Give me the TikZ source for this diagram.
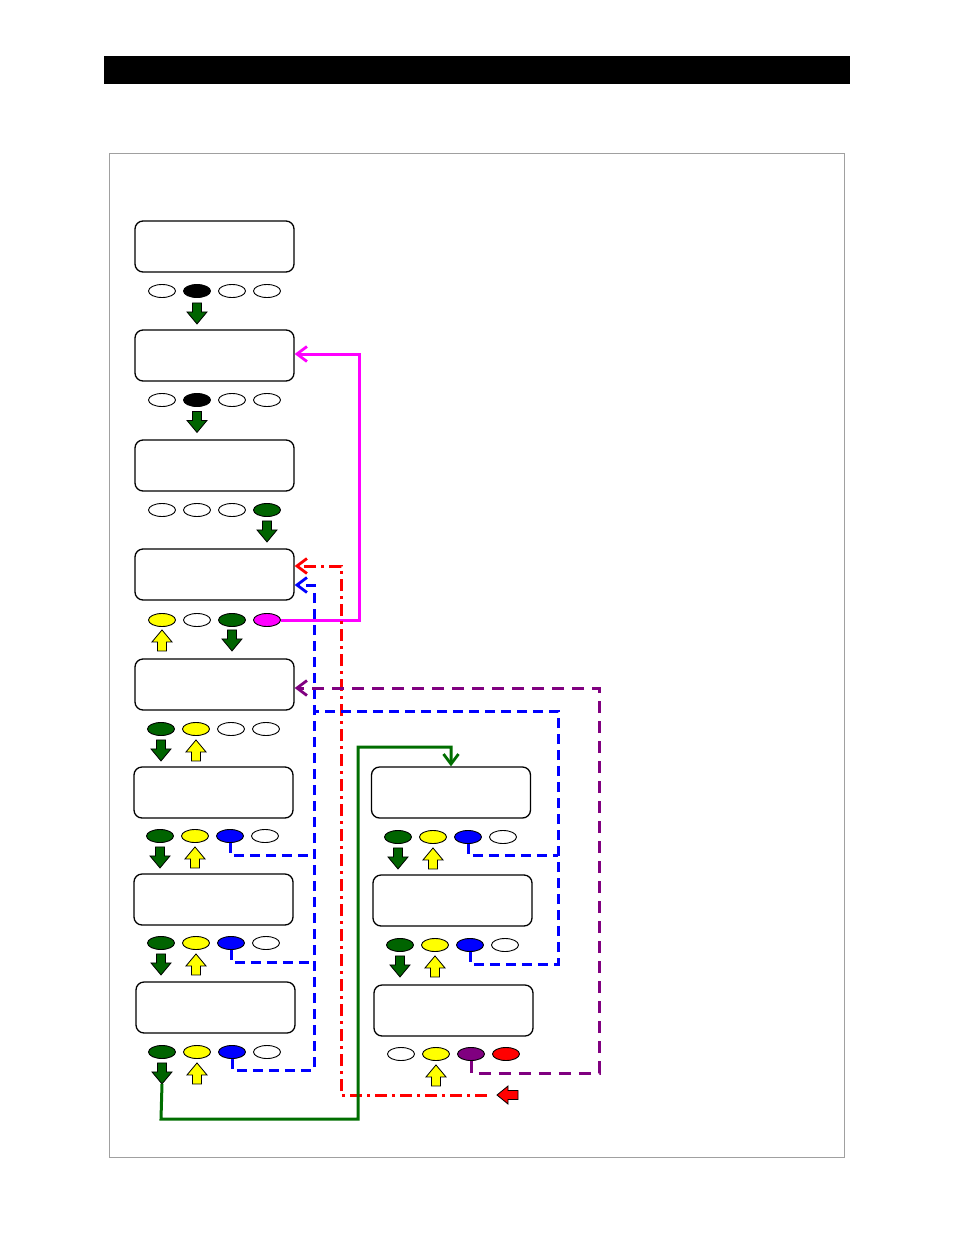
\documentclass[tikz,border=0pt]{standalone}
\usetikzlibrary{shapes.geometric,arrows.meta}
\definecolor{dgreen}{RGB}{0,100,0}
\definecolor{cgreen}{RGB}{0,110,0}
\definecolor{cpurple}{RGB}{128,0,128}
\definecolor{cmagenta}{RGB}{255,0,255}
\definecolor{cblue}{RGB}{0,0,255}
\definecolor{cred}{RGB}{255,0,0}
\definecolor{cyellow}{RGB}{255,255,0}
\definecolor{framegray}{RGB}{160,160,160}
\tikzset{
  box/.style={draw, rounded corners=8pt, line width=1.3pt, minimum width=159pt, minimum height=51pt, inner sep=0pt},
  btn/.style={draw, ellipse, line width=0.9pt, minimum width=27pt, minimum height=13pt, inner sep=0pt},
  conn/.style={line width=3pt, line join=miter},
  arrowtip/.style={-{Straight Barb[length=10pt,width=15pt,line width=2.8pt]}},
  bluedash/.style={conn, draw=cblue, dash pattern=on 10pt off 6pt},
  purpledash/.style={conn, draw=cpurple, dash pattern=on 12pt off 8pt},
  reddash/.style={conn, draw=cred, dash pattern=on 12pt off 5pt on 3pt off 5pt},
  gdown/.pic={\draw[fill=dgreen,line width=0.8pt,line join=miter] (-4.5,0) -- (4.5,0) -- (4.5,9) -- (10,9) -- (0,21) -- (-10,9) -- (-4.5,9) -- cycle;},
  yup/.pic={\draw[fill=cyellow,line width=0.8pt,line join=miter] (-4.5,21) -- (4.5,21) -- (4.5,12) -- (10,12) -- (0,0) -- (-10,12) -- (-4.5,12) -- cycle;},
  rleft/.pic={\draw[fill=cred,line width=0.8pt,line join=miter] (0,0) -- (11,-9) -- (11,-4.5) -- (21,-4.5) -- (21,4.5) -- (11,4.5) -- (11,9) -- cycle;}
}
\newcommand\btnrow[7]{%
  \node[btn,fill=#4] (#1a) at (#2,#3) {};
  \node[btn,fill=#5] (#1b) at ({#2+35},#3) {};
  \node[btn,fill=#6] (#1c) at ({#2+70},#3) {};
  \node[btn,fill=#7] (#1d) at ({#2+105},#3) {};}
\begin{document}
\begin{tikzpicture}[x=1pt,y=-1pt]
\useasboundingbox (0,0) rectangle (954,1235);
% header bar and frame
\fill[black] (104,56) rectangle (850,84);
\draw[framegray, line width=1pt] (109,153) rectangle (844,1157);
% boxes
\node[box] (box1) at (214.5,246.5) {};
\node[box] (box2) at (214.5,355.5) {};
\node[box] (box3) at (214.5,465.5) {};
\node[box] (box4) at (214.5,574.5) {};
\node[box] (box5) at (214.5,684.5) {};
\node[box] (box6) at (213.5,792.5) {};
\node[box] (box7) at (213.5,899.5) {};
\node[box] (box8) at (215.5,1007.5) {};
\node[box] (boxr1) at (451,792.5) {};
\node[box] (boxr2) at (452.5,900.5) {};
\node[box] (boxr3) at (453.5,1010.5) {};
% button rows
\btnrow{ra}{162}{291}{white}{black}{white}{white}
\btnrow{rb}{162}{400}{white}{black}{white}{white}
\btnrow{rc}{162}{510}{white}{white}{white}{dgreen}
\btnrow{rd}{162}{620}{cyellow}{white}{dgreen}{cmagenta}
\btnrow{re}{161}{729}{dgreen}{cyellow}{white}{white}
\btnrow{rf}{160}{836}{dgreen}{cyellow}{cblue}{white}
\btnrow{rg}{161}{943}{dgreen}{cyellow}{cblue}{white}
\btnrow{rh}{162}{1052}{dgreen}{cyellow}{cblue}{white}
\btnrow{sa}{398}{837}{dgreen}{cyellow}{cblue}{white}
\btnrow{sb}{400}{945}{dgreen}{cyellow}{cblue}{white}
\btnrow{sc}{401}{1054}{white}{cyellow}{cpurple}{cred}
% block arrows
\pic at ([yshift=-5pt]rab.south) {gdown};
\pic at ([yshift=-4.5pt]rbb.south) {gdown};
\pic at ([yshift=-4pt]rcd.south) {gdown};
\pic at ([yshift=-3pt]rda.south) {yup};
\pic at ([yshift=-3pt]rdc.south) {gdown};
\pic at ([yshift=-4pt]rea.south) {gdown};
\pic at ([yshift=-4pt]reb.south) {yup};
\pic at ([yshift=-4pt]rfa.south) {gdown};
\pic at ([yshift=-4pt]rfb.south) {yup};
\pic at ([yshift=-4pt]rga.south) {gdown};
\pic at ([yshift=-4pt]rgb.south) {yup};
\pic at ([yshift=-4pt]rha.south) {gdown};
\pic at ([yshift=-4pt]rhb.south) {yup};
\pic at ([yshift=-4pt]saa.south) {gdown};
\pic at ([yshift=-4pt]sab.south) {yup};
\pic at ([yshift=-4pt]sba.south) {gdown};
\pic at ([yshift=-4pt]sbb.south) {yup};
\pic at ([yshift=-4pt]scb.south) {yup};
\coordinate (redtip) at (497,1095);
\pic at (redtip) {rleft};
\coordinate (gstart) at ([yshift=-25pt]rha.south);
% connectors
\draw[conn, draw=cmagenta, arrowtip] (rdd.east) -- (359,620) -- (359,354) -- ([yshift=1.5pt]box2.east);
\draw[reddash, arrowtip] ([xshift=-10pt]redtip) -- (341,1095) -- (341,566) -- ([yshift=8.5pt]box4.east);
\draw[bluedash] (rfc.south) |- (314,855);
\draw[bluedash] (rgc.south) |- (314,962);
\draw[bluedash, arrowtip] (rhc.south) |- (314,1070) -- (314,585) -- ([yshift=-10.5pt]box4.east);
\draw[bluedash] (sac.south) |- (558,855);
\draw[bluedash] (sbc.south) |- (558,964) -- (558,711) -- (314,711);
\draw[purpledash, arrowtip] (scc.south) |- (599,1073) -- (599,688) -- ([yshift=-3.5pt]box5.east);
\draw[conn, draw=cgreen, arrowtip] (gstart) -- (161,1119) -- (358,1119) -- (358,747) -- (451,747) -- (boxr1.north);
\end{tikzpicture}
\end{document}
